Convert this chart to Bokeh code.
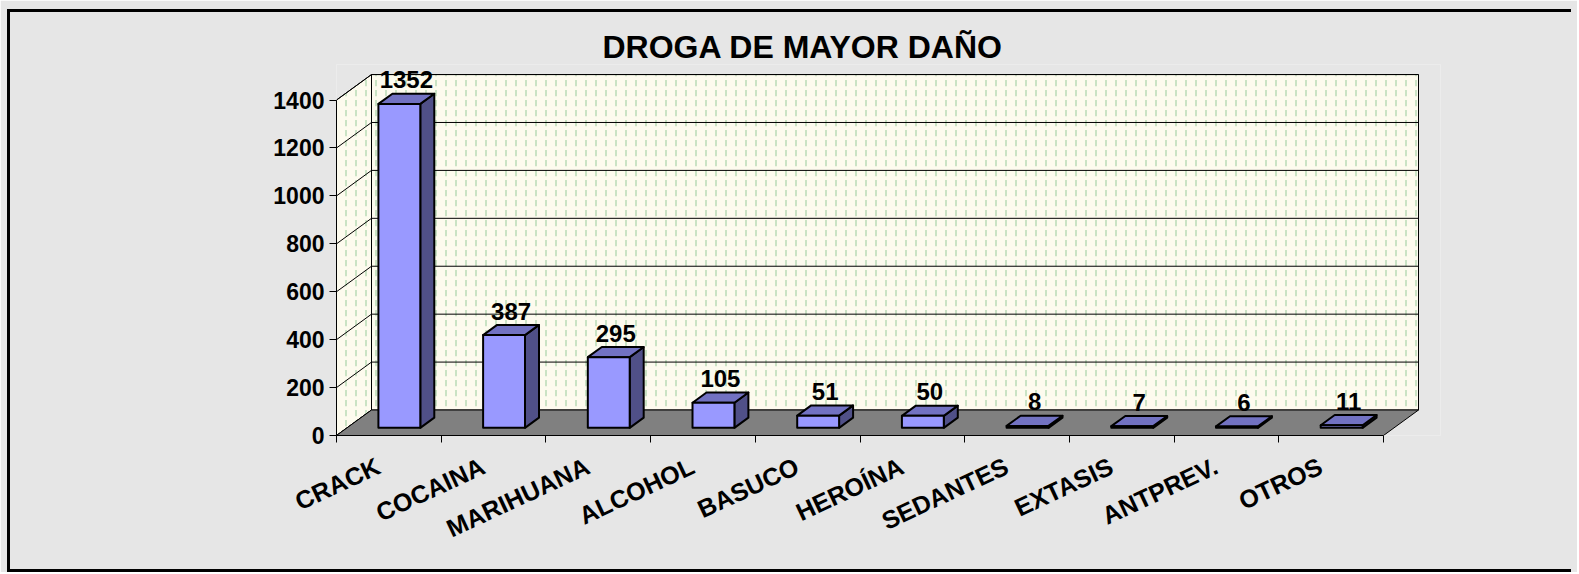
import math
from bokeh.plotting import figure
from bokeh.models import Range1d, FixedTicker, InlineStyleSheet
from bokeh.core.properties import value
from bokeh.embed import file_html
from bokeh.resources import INLINE

# ---- data ----
categories = ["CRACK", "COCAINA", "MARIHUANA", "ALCOHOL", "BASUCO",
              "HEROÍNA", "SEDANTES", "EXTASIS", "ANTPREV.", "OTROS"]
counts = [1352, 387, 295, 105, 51, 50, 8, 7, 6, 11]
y_ticks = [0, 200, 400, 600, 800, 1000, 1200, 1400]
title_text = "DROGA DE MAYOR DAÑO"

# ---- layout ----
W, H = 1577, 572
FL, FB, FT = 336, 137, 64
FR = W - 1440
PX_X = 104.7          # pixels per category
PX_Y = 0.2396         # pixels per value unit
n = len(categories)
ymax = y_ticks[-1]
x_end = (W - FL - FR) / PX_X
y_end = (H - FB - FT) / PX_Y
DX = 35.0 / PX_X      # depth offset in category units
DY = 25.5 / PX_Y      # depth offset in value units
Z0, Z1 = 0.3, 0.7     # bar depth span
B0, B1 = 0.3, 0.7     # bar span inside category
LABEL_POS = 0.4       # anchor of category label inside its slot

FONT = "Liberation Sans"
BG = "#e6e6e6"

frame_css = InlineStyleSheet(css="""
:host::after {
  content: "";
  position: absolute;
  left: 7px; top: 9px; right: 0; bottom: 0;
  border-style: solid;
  border-color: black;
  border-width: 3px 3px 3px 3px;
  box-sizing: border-box;
  clip-path: inset(0px 6px 0px 0px);
  pointer-events: none;
  z-index: 1000;
}
""")

p = figure(width=W, height=H, output_backend="svg", toolbar_location=None,
           x_range=Range1d(0, x_end), y_range=Range1d(0, y_end),
           min_border_left=FL, min_border_right=FR,
           min_border_top=FT, min_border_bottom=FB)
p.stylesheets = [frame_css]
p.background_fill_color = BG
p.border_fill_color = BG
p.outline_line_color = None
p.grid.visible = False

# title
p.title.text = title_text
p.title.align = "left"
p.title.offset = 266
p.title.text_font = FONT
p.title.text_font_size = "32px"
p.title.text_font_style = "bold"
p.title.text_color = "black"
p.title.standoff = 0

# y axis (front plane)
ya = p.yaxis[0]
ya.ticker = FixedTicker(ticks=y_ticks, minor_ticks=[])
ya.bounds = (0, ymax)
ya.major_tick_out = 7
ya.major_tick_in = 0
ya.minor_tick_out = 0
ya.major_label_standoff = 5
ya.major_label_text_font = FONT
ya.major_label_text_font_size = "23px"
ya.major_label_text_font_style = "bold"
ya.major_label_text_color = "black"
ya.axis_line_color = "black"

# x axis (front floor edge)
xa = p.xaxis[0]
anchors = [i + LABEL_POS for i in range(n)]
xa.ticker = FixedTicker(ticks=anchors, minor_ticks=list(range(n + 1)))
xa.major_label_overrides = {c: name for c, name in zip(anchors, categories)}
xa.bounds = (0, n)
xa.major_tick_out = 0
xa.major_tick_in = 0
xa.minor_tick_out = 7
xa.minor_tick_in = 0
xa.minor_tick_line_color = "black"
xa.major_label_orientation = math.radians(25)
xa.major_label_standoff = 22
xa.major_label_text_font = FONT
xa.major_label_text_font_size = "25px"
xa.major_label_text_font_style = "bold"
xa.major_label_text_color = "black"
xa.axis_line_color = "black"

WALL = "#fdfbee"
HATCH = dict(hatch_pattern=":", hatch_color="#a9d3a9", hatch_scale=10,
             hatch_weight=1.5, hatch_alpha=0.8)

# left wall
p.patch(x=[0, DX, DX, 0], y=[0, DY, ymax + DY, ymax],
        fill_color=WALL, line_color="black", line_width=1, **HATCH)
# back wall
p.quad(left=DX, right=n + DX, bottom=DY, top=ymax + DY,
       fill_color=WALL, line_color="black", line_width=1, **HATCH)
# gridlines on back wall and left wall
gt = y_ticks[1:]
p.segment(x0=[DX] * len(gt), y0=[t + DY for t in gt], x1=[n + DX] * len(gt),
          y1=[t + DY for t in gt], line_color="black", line_width=1)
p.segment(x0=[0] * len(y_ticks), y0=y_ticks, x1=[DX] * len(y_ticks),
          y1=[t + DY for t in y_ticks], line_color="black", line_width=1)
# floor
p.patch(x=[0, n, n + DX, DX], y=[0, 0, DY, DY],
        fill_color="#808080", line_color="black", line_width=1)

# 3D bars
front_x, front_y, top_x, top_y, side_x, side_y = [], [], [], [], [], []
for i, v in enumerate(counts):
    x0, x1 = i + B0, i + B1
    a0, a1 = Z0 * DX, Z1 * DX
    b0, b1 = Z0 * DY, Z1 * DY
    front_x.append([x0 + a0, x1 + a0, x1 + a0, x0 + a0])
    front_y.append([b0, b0, v + b0, v + b0])
    top_x.append([x0 + a0, x1 + a0, x1 + a1, x0 + a1])
    top_y.append([v + b0, v + b0, v + b1, v + b1])
    side_x.append([x1 + a0, x1 + a1, x1 + a1, x1 + a0])
    side_y.append([b0, b1, v + b1, v + b0])
p.patches(xs=side_x, ys=side_y, fill_color="#505088", line_color="black",
          line_width=2, line_join="round")
p.patches(xs=top_x, ys=top_y, fill_color="#7272c2", line_color="black",
          line_width=2, line_join="round")
p.patches(xs=front_x, ys=front_y, fill_color="#9999ff", line_color="black",
          line_width=2, line_join="round")

# value labels
p.text(x=[i + 0.5 + 0.5 * DX for i in range(n)],
       y=[v + 0.5 * DY for v in counts],
       text=[str(v) for v in counts],
       text_align="center", text_baseline="middle", y_offset=-19,
       text_font=value(FONT), text_font_size="24px", text_font_style="bold",
       text_color="black")

open("out.html", "w").write(file_html(p, INLINE))
